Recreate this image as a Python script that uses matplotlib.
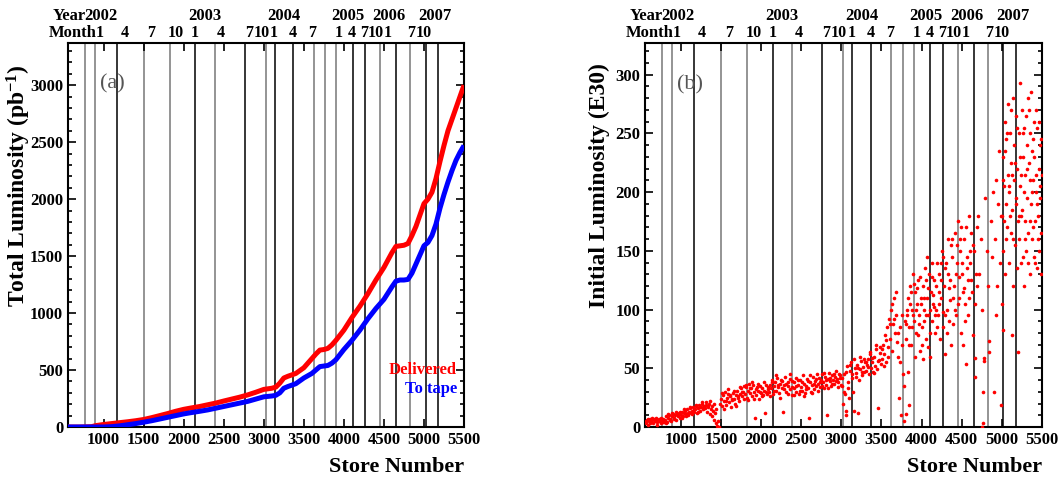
import matplotlib
matplotlib.use('Agg')
import matplotlib.pyplot as plt
from matplotlib.ticker import MultipleLocator

plt.rcParams['font.family'] = ['Liberation Serif', 'DejaVu Serif']
plt.rcParams['font.weight'] = 'bold'
plt.rcParams['mathtext.fontset'] = 'custom'
plt.rcParams['mathtext.rm'] = 'Liberation Serif:bold'
plt.rcParams['mathtext.bf'] = 'Liberation Serif:bold'
plt.rcParams['mathtext.default'] = 'rm'

# month boundaries (store number) and the calendar labels on top
month_lines = [763, 895, 1170, 1504, 1825, 2145, 2391, 2763, 3025, 3138, 3366,
               3625, 3763, 3900, 4108, 4263, 4450, 4650, 4825, 5020, 5179]
line_shades = ['#777777', '#777777', 'k', '#777777', '#777777', 'k', '#777777', 'k',
               '#777777', 'k', 'k', '#777777', '#777777', '#777777', 'k', 'k',
               '#777777', 'k', '#777777', 'k', 'k']
month_pos = [952, 1265, 1597, 1906, 2143, 2466, 2815, 2972, 3125, 3365, 3603,
             3940, 4103, 4255, 4400, 4548, 4842, 4996]
month_txt = ['1', '4', '7', '10', '1', '4', '7', '10', '1', '4', '7',
             '1', '4', '7', '10', '1', '7', '10']
year_pos = [964, 2262, 3255, 4053, 4562, 5140]
year_txt = ['2002', '2003', '2004', '2005', '2006', '2007']

# integrated luminosity vs store
store_a = [555, 700, 850, 900, 1000, 1100, 1200, 1300, 1400, 1500, 1600, 1700,
           1800, 1900, 2000, 2100, 2200, 2300, 2400, 2500, 2600, 2700, 2800,
           2900, 3000, 3100, 3150, 3200, 3250, 3300, 3400, 3500, 3600, 3650,
           3700, 3750, 3800, 3850, 3900, 4000, 4100, 4200, 4300, 4400, 4500,
           4600, 4650, 4700, 4750, 4800, 4850, 4900, 4950, 5000, 5050, 5100,
           5150, 5200, 5250, 5300, 5350, 5400, 5450, 5500]
delivered = [0, 0, 3, 12, 22, 30, 38, 46, 55, 66, 82, 100, 118, 138, 155, 168,
             180, 195, 210, 228, 245, 262, 282, 305, 330, 340, 350, 385, 430,
             445, 470, 520, 600, 640, 675, 680, 690, 720, 760, 850, 960, 1060,
             1170, 1290, 1400, 1530, 1585, 1590, 1595, 1610, 1680, 1760, 1860,
             1960, 2000, 2060, 2180, 2330, 2470, 2600, 2700, 2800, 2900, 3000]
to_tape = [0, 0, 0, 0, 0, 3, 10, 20, 30, 42, 55, 70, 85, 100, 115, 127, 138,
           150, 165, 180, 195, 210, 225, 245, 265, 272, 278, 300, 340, 355,
           380, 430, 470, 500, 530, 535, 540, 560, 590, 680, 760, 850, 950,
           1040, 1120, 1230, 1280, 1290, 1290, 1295, 1350, 1430, 1510, 1590,
           1620, 1680, 1780, 1920, 2040, 2150, 2250, 2340, 2410, 2470]

# initial luminosity of each store
store_b = [
    565, 578, 590, 602, 615, 628, 640, 655, 668, 680, 693, 705, 718, 730, 742, 755, 768, 780, 792,
    572, 597, 622, 648, 675, 700, 725, 750, 775,
    805, 818, 830, 843, 855, 868, 880, 893, 905, 918, 930, 942, 955, 967, 980, 992,
    812, 837, 862, 887, 912, 937, 962, 987,
    1005, 1017, 1030, 1042, 1055, 1067, 1080, 1092, 1105, 1117, 1130, 1142, 1155, 1167, 1180, 1192,
    1205, 1217, 1230, 1242, 1255, 1267, 1280, 1292,
    1011, 1036, 1061, 1086, 1111, 1136, 1161, 1186, 1211, 1236, 1261, 1286,
    1305, 1317, 1330, 1342, 1355, 1367, 1380, 1392, 1405, 1417, 1430, 1442, 1455, 1467, 1480,
    1311, 1336, 1361, 1386, 1411, 1436,
    1495, 1505, 1517, 1530, 1542, 1555, 1567, 1580, 1592, 1605, 1617, 1630, 1642, 1655, 1667,
    1680, 1692, 1705, 1717, 1730, 1742, 1755, 1767, 1780, 1792,
    1511, 1536, 1561, 1586, 1611, 1636, 1661, 1686, 1711, 1736, 1761, 1786,
    1805, 1817, 1830, 1842, 1855, 1867, 1880, 1892, 1905, 1917, 1930, 1942, 1955, 1967, 1980,
    1992, 2005, 2017, 2030, 2042, 2055, 2067, 2080, 2092,
    1811, 1836, 1861, 1886, 1911, 1936, 1961, 1986, 2011, 2036, 2061, 2086,
    2105, 2117, 2130, 2142, 2155, 2167, 2180, 2192, 2205, 2217, 2230, 2242, 2255, 2267, 2280,
    2292, 2305, 2317, 2330, 2342, 2355, 2367, 2380, 2392,
    2111, 2136, 2161, 2186, 2211, 2236, 2261, 2286, 2311, 2336, 2361, 2386,
    2405, 2417, 2430, 2442, 2455, 2467, 2480, 2492, 2505, 2517, 2530, 2542, 2555, 2567, 2580,
    2592, 2605, 2617, 2630, 2642, 2655, 2667, 2680, 2692,
    2411, 2436, 2461, 2486, 2511, 2536, 2561, 2586, 2611, 2636, 2661, 2686,
    2705, 2717, 2730, 2742, 2755, 2767, 2780, 2792, 2805, 2817, 2830, 2842, 2855, 2867, 2880,
    2892, 2905, 2917, 2930, 2942, 2955, 2967, 2980, 2992,
    2711, 2736, 2761, 2786, 2811, 2836, 2861, 2886, 2911, 2936, 2961, 2986,
    3005, 3017, 3030, 3042, 3055, 3060, 3067, 3080, 3092, 3105, 3117, 3130, 3142, 3155, 3167,
    3180, 3192, 3205, 3217, 3230, 3242, 3255, 3267, 3280, 3292,
    3011, 3036, 3061, 3086, 3111, 3136, 3161, 3186, 3211, 3236, 3261, 3286,
    3305, 3317, 3330, 3342, 3355, 3367, 3380, 3392, 3405, 3417, 3430, 3442, 3455, 3467, 3480, 3492,
    3311, 3336, 3361, 3386, 3411, 3436, 3461, 3486,
    3505, 3517, 3530, 3542, 3555, 3567, 3580, 3592, 3605, 3617, 3630, 3642, 3655, 3667, 3680, 3692,
    3511, 3536, 3561, 3586, 3611, 3636, 3661, 3686,
    3705, 3717, 3730, 3742, 3755, 3767, 3780, 3792,
    3711, 3736, 3761, 3786,
    3805, 3812, 3817, 3830, 3842, 3845, 3855, 3867, 3880, 3892, 3905, 3917, 3930, 3942, 3955,
    3967, 3980, 3992,
    3811, 3836, 3861, 3886, 3911, 3936, 3961, 3986,
    4005, 4017, 4030, 4042, 4055, 4067, 4080, 4092, 4105, 4117, 4130, 4142, 4155, 4167, 4180, 4192,
    4011, 4036, 4061, 4086, 4111, 4136, 4161, 4186, 4023, 4073, 4148,
    4205, 4217, 4230, 4242, 4255, 4267, 4280, 4292, 4305, 4317, 4330, 4342, 4355, 4367, 4380, 4392,
    4211, 4236, 4261, 4286, 4311, 4336, 4361, 4386,
    4405, 4417, 4430, 4442, 4455, 4467, 4480, 4492, 4505, 4517, 4530, 4542, 4555, 4567, 4580, 4592,
    4411, 4436, 4461, 4486, 4511, 4536, 4561, 4586,
    4605, 4617, 4630, 4641, 4655, 4666, 4668, 4680, 4692, 4611, 4636, 4661, 4686,
    4705, 4720, 4735, 4750, 4754, 4766, 4768, 4779, 4781, 4795, 4810, 4825, 4841, 4843, 4860,
    4875, 4890, 4904,
    4915, 4930, 4945, 4960, 4975, 4992, 4990, 4998, 4925, 4955,
    5005, 5012, 5017, 5020, 5028, 5035, 5042, 5050, 5057, 5065, 5072, 5080, 5087, 5095, 5102,
    5110, 5117, 5125, 5129, 5133, 5140, 5148, 5155, 5163, 5170, 5178, 5185, 5192, 5199, 5204,
    5210, 5218, 5225, 5232, 5240, 5247, 5255, 5262, 5270, 5277, 5285, 5292, 5300, 5307, 5315,
    5322, 5330, 5337, 5345, 5352, 5360, 5367, 5375, 5382, 5390, 5397, 5405, 5412, 5420, 5427,
    5435, 5442, 5450, 5457, 5465, 5472, 5480, 5487, 5495,
    5214, 5236, 5258, 5281, 5303, 5326, 5348, 5371, 5393, 5416, 5438, 5461, 5483,
    3822, 3848, 3873, 3898, 3923, 3948, 3973, 3998,
    4029, 4054, 4079, 4104, 4129, 4154, 4179,
    4223, 4248, 4273, 4298, 4323, 4348, 4373,
    4423, 4448, 4473, 4498, 4523, 4548, 4573, 4598,
    5008, 5024, 5039, 5054, 5069, 5084, 5099, 5114, 5129, 5144, 5159, 5174, 5189,
    5221, 5244, 5266, 5289, 5311, 5334, 5356, 5379, 5401, 5424, 5446, 5469, 5491,
]
lum_b = [
    3, 6, 2, 5, 7, 4, 6, 3, 7, 5, 8, 4, 6, 7, 5, 3, 6, 7, 4,
    5, 7, 3, 8, 6, 2, 5, 8, 4,
    6, 9, 4, 8, 10, 7, 5, 9, 11, 8, 10, 6, 12, 9, 11, 8,
    3, 11, 6, 12, 7, 13, 10, 13,
    10, 13, 9, 12, 14, 11, 15, 10, 13, 16, 12, 14, 17, 13, 15, 18,
    12, 16, 19, 14, 17, 20, 15, 18,
    8, 15, 9, 12, 17, 11, 15, 19, 13, 17, 21, 16,
    16, 21, 13, 18, 20, 11, 15, 9, 14, 6, 12, 3, 1, 5, 0,
    19, 17, 22, 18, 20, 15,
    20, 24, 18, 27, 22, 30, 19, 25, 28, 21, 26, 17, 23, 29, 24,
    20, 27, 31, 25, 22, 28, 33, 26, 30, 35,
    29, 15, 22, 32, 27, 24, 31, 18, 26, 34, 30, 24,
    28, 34, 25, 31, 37, 29, 33, 26, 36, 30, 8, 27, 34, 31, 24,
    35, 29, 33, 27, 31, 12, 36, 28, 32,
    36, 23, 33, 38, 24, 32, 37, 30, 26, 38, 30, 34,
    30, 36, 33, 40, 28, 35, 38, 31, 42, 34, 29, 37, 40, 33, 13,
    36, 43, 30, 38, 35, 41, 32, 39, 27,
    26, 38, 31, 44, 36, 25, 39, 32, 37, 28, 45, 34,
    33, 38, 30, 42, 36, 28, 40, 34, 31, 44, 37, 29, 35, 41, 33,
    8, 38, 30, 36, 43, 32, 39, 35, 45,
    27, 35, 40, 31, 38, 26, 32, 39, 44, 29, 37, 41,
    37, 42, 34, 40, 45, 38, 33, 43, 36, 10, 41, 46, 39, 35, 44,
    40, 37, 43, 48, 41, 38, 45, 42, 36,
    31, 38, 35, 46, 40, 33, 42, 37, 45, 39, 34, 44,
    35, 20, 45, 28, 10, 14, 52, 38, 25, 48, 55, 42, 30, 14, 50,
    46, 53, 12, 40, 49, 56, 44, 51, 47, 55,
    42, 30, 47, 33, 53, 45, 58, 43, 50, 60, 47, 58,
    48, 53, 58, 45, 62, 50, 55, 47, 60, 52, 66, 49, 16, 57, 63, 54,
    55, 51, 64, 59, 46, 70, 56, 68,
    58, 70, 62, 78, 55, 85, 68, 92, 75, 100, 65, 88, 110, 80, 95, 72,
    66, 52, 74, 60, 88, 105, 92, 115,
    60, 25, 85, 10, 70, 45, 5, 90,
    80, 55, 95, 35,
    75, 11, 95, 110, 19, 85, 120, 70, 100, 130, 90, 115, 80, 105, 125,
    95, 65, 110,
    88, 47, 105, 85, 122, 100, 78, 128,
    85, 120, 100, 135, 75, 110, 95, 130, 60, 115, 90, 105, 125, 80, 100, 140,
    70, 90, 125, 68, 100, 128, 95, 85, 58, 145, 112,
    95, 130, 75, 110, 150, 85, 120, 62, 140, 100, 160, 90, 125, 70, 145, 110,
    115, 140, 98, 135, 80, 118, 155, 88,
    120, 165, 95, 140, 175, 110, 150, 80, 130, 70, 160, 105, 54, 145, 125, 180,
    100, 155, 128, 170, 115, 90, 135, 110,
    140, 165, 115, 78, 150, 43, 59, 130, 170, 125, 155, 105, 120,
    180, 130, 160, 100, 0, 30, 3, 59, 56, 195, 150, 120, 73, 64, 175,
    145, 200, 30,
    160, 210, 120, 235, 140, 19, 180, 105, 95, 190,
    180, 230, 83, 150, 205, 260, 130, 190, 245, 170, 215, 275, 140, 200, 250,
    165, 225, 185, 78, 280, 120, 210, 240, 155, 195, 265, 135, 220, 175, 64,
    250, 160, 293, 205, 140, 270, 185, 230, 120, 255, 175, 215, 150, 240, 195,
    280, 165, 225, 130, 250, 190, 285, 160, 210, 245, 145, 230, 175, 270, 200,
    135, 255, 180, 220, 150, 240, 195, 130, 215,
    180, 215, 145, 200, 265, 140, 210, 235, 170, 140, 190, 260, 165,
    100, 70, 115, 95, 60, 118, 88, 105,
    110, 95, 118, 80, 140, 102, 120,
    105, 125, 145, 95, 130, 108, 160,
    130, 105, 160, 140, 118, 170, 95, 150,
    210, 175, 235, 160, 250, 205, 180, 270, 215, 160, 225, 190, 255,
    230, 180, 250, 160, 220, 270, 175, 200, 260, 215, 160, 205, 245,
]

fig = plt.figure(figsize=(10.63, 4.83), dpi=100)
ax1 = fig.add_axes([68 / 1063, 56 / 483, 396 / 1063, 384 / 483])
ax2 = fig.add_axes([645 / 1063, 56 / 483, 397 / 1063, 384 / 483])

for ax in (ax1, ax2):
    for s, c in zip(month_lines, line_shades):
        ax.axvline(s, color=c, lw=1.1, zorder=1)
    ax.set_xlim(555, 5500)
    ax.xaxis.set_major_locator(MultipleLocator(500))
    ax.tick_params(which='both', direction='in', top=True, right=True,
                   labelsize=12, width=1.2)
    ax.tick_params(which='major', length=6)
    ax.tick_params(which='minor', length=3)
    for sp in ax.spines.values():
        sp.set_linewidth(1.5)
    trans = ax.get_xaxis_transform()
    for x, t in zip(month_pos, month_txt):
        ax.text(x, 1.026, t, transform=trans, ha='center', va='center', fontsize=11.5)
    for x, t in zip(year_pos, year_txt):
        ax.text(x, 1.07, t, transform=trans, ha='center', va='center', fontsize=12)
    ax.text(915, 1.026, 'Month', transform=trans, ha='right', va='center', fontsize=12)
    ax.text(777, 1.07, 'Year', transform=trans, ha='right', va='center', fontsize=12)
    ax.text(1.0, -0.104, 'Store Number', transform=ax.transAxes, ha='right',
            va='center', fontsize=16)

# (a) integrated luminosity
ax1.plot(store_a, delivered, color='#ff0000', lw=3.6, zorder=3, solid_capstyle='butt')
ax1.plot(store_a, to_tape, color='#0000ff', lw=3.6, zorder=3, solid_capstyle='butt')
ax1.set_ylim(0, 3370)
ax1.yaxis.set_major_locator(MultipleLocator(500))
ax1.yaxis.set_minor_locator(MultipleLocator(100))
ax1.text(-0.124, 0.628, r'Total Luminosity (pb$^{-1}$)', transform=ax1.transAxes,
         rotation=90, ha='center', va='center', fontsize=17)
ax1.text(0.111, 0.893, '(a)', transform=ax1.transAxes, ha='center', va='center',
         fontsize=16, fontweight='normal', color='#555555')
ax1.text(0.982, 0.148, 'Delivered', transform=ax1.transAxes, ha='right', va='center',
         fontsize=12, color='#ff0000')
ax1.text(0.982, 0.099, 'To tape', transform=ax1.transAxes, ha='right', va='center',
         fontsize=12, color='#0000ff')

# (b) initial luminosity per store
ax2.plot(store_b, lum_b, 'o', color='#ff0000', ms=2.6, mec='none', zorder=3)
ax2.set_ylim(0, 327)
ax2.yaxis.set_major_locator(MultipleLocator(50))
ax2.yaxis.set_minor_locator(MultipleLocator(10))
ax2.text(-0.116, 0.628, 'Initial Luminosity (E30)', transform=ax2.transAxes,
         rotation=90, ha='center', va='center', fontsize=17)
ax2.text(0.113, 0.89, '(b)', transform=ax2.transAxes, ha='center', va='center',
         fontsize=16, fontweight='normal', color='#555555')

fig.savefig('out.png', dpi=100)
